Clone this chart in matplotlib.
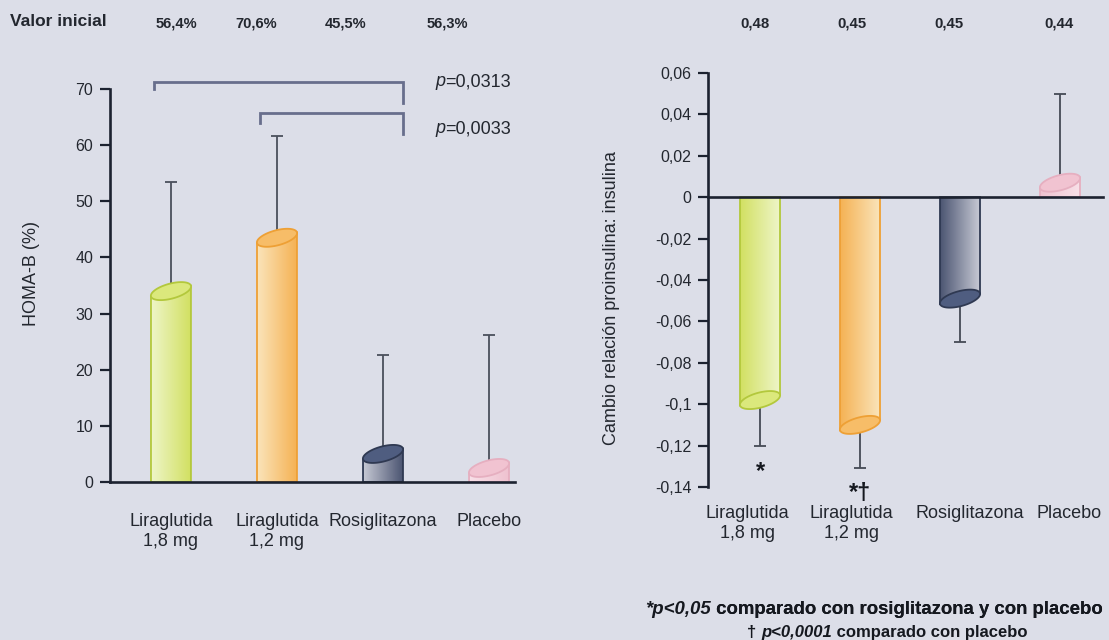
import matplotlib
matplotlib.use('Agg')
import matplotlib.pyplot as plt
import numpy as np
from matplotlib.colors import LinearSegmentedColormap
from matplotlib.patches import Polygon

plt.rcParams['font.family'] = ['Liberation Sans', 'DejaVu Sans']

# ---------------- data ----------------
categories = ['Liraglutida\n1,8 mg', 'Liraglutida\n1,2 mg', 'Rosiglitazona', 'Placebo']

homa_b = [34.0, 43.5, 5.0, 2.5]                 # HOMA-B change (%)
homa_b_err_end = [53.5, 61.7, 22.7, 26.2]       # end of error bar
homa_b_ticks = [0, 10, 20, 30, 40, 50, 60, 70]
homa_baseline = ['56,4%', '70,6%', '45,5%', '56,3%']

proins = [-0.098, -0.110, -0.049, 0.007]        # change proinsulin:insulin
proins_err_end = [-0.120, -0.131, -0.070, 0.050]
proins_ticks = [0.06, 0.04, 0.02, 0.0, -0.02, -0.04, -0.06, -0.08, -0.10, -0.12, -0.14]
proins_baseline = ['0,48', '0,45', '0,45', '0,44']
proins_marks = ['*', '*\u2020', '', '']

bracket_pairs = [(0, 2), (1, 2)]
bracket_levels = [71.3, 65.8]
bracket_left_ends = [70.0, 64.0]
bracket_right_ends = [67.5, 61.9]
bracket_pvalues = ['=0,0313', '=0,0033']

# ---------------- style / layout ----------------
W, H, DPI = 1109, 640, 100
BG = '#dcdee8'
AXC = '#1c2230'
TXT = '#23272f'
DARK = '#15181f'
bar_styles = [
    dict(c1='#eef5c8', c2='#d2e062', edge='#b3c83c', top='#dbe87c'),
    dict(c1='#fae4ba', c2='#f5b254', edge='#eea035', top='#f7bd68'),
    dict(c1='#c6c9d4', c2='#4c5572', edge='#2f3952', top='#4f5d80'),
    dict(c1='#f8e0e8', c2='#efc2d0', edge='#e6afc0', top='#f1c3d1'),
]
pvalue_offsets_px = [(32, 0), (32, -16)]
label_shift_px = [-13, -9, 10, 9]

fig = plt.figure(figsize=(W / DPI, H / DPI), dpi=DPI)
fig.patch.set_facecolor(BG)

axL = fig.add_axes([110 / W, 1 - 482 / H, 405 / W, 393 / H])
axR = fig.add_axes([708 / W, 1 - 487 / H, 395 / W, 414 / H])

for ax in (axL, axR):
    ax.set_facecolor(BG)
    ax.patch.set_alpha(0)
    for s in ('top', 'right'):
        ax.spines[s].set_visible(False)
    for s in ('left', 'bottom'):
        ax.spines[s].set_color(AXC)
        ax.spines[s].set_linewidth(1.9)
        ax.spines[s].set_zorder(6)
    ax.tick_params(axis='y', direction='out', length=7, width=1.6, color=AXC,
                   labelsize=11.5, labelcolor=TXT, pad=5)

axL.set_xlim(-0.575, 3.245)
axL.set_ylim(0, 70)
axR.set_xlim(-0.52, 3.43)
axR.set_ylim(-0.14, 0.06)
axR.spines['bottom'].set_position(('data', 0))

TILT = np.deg2rad(15)
MINOR_PX = 7.5


def cylinder(ax, xpos, vals, width, reverse):
    x0, x1 = ax.get_xlim()
    y0, y1 = ax.get_ylim()
    sx = ax.bbox.width / (x1 - x0)
    sy = ax.bbox.height / (y1 - y0)
    w_px = width * sx
    a = w_px / 2 / np.cos(TILT)
    dy = (w_px / 2) * np.tan(TILT) / sy
    t = np.linspace(0, 2 * np.pi, 120)
    for x, v, st in zip(xpos, vals, bar_styles):
        body = Polygon([(x - width / 2, 0), (x - width / 2, v - dy),
                        (x + width / 2, v + dy), (x + width / 2, 0)],
                       closed=True, facecolor='none', edgecolor=st['edge'],
                       lw=1.3, zorder=3)
        ax.add_patch(body)
        cols = [st['c2'], st['c1']] if reverse else [st['c1'], st['c2']]
        cmap = LinearSegmentedColormap.from_list('g', cols)
        grad = np.linspace(0, 1, 64).reshape(1, -1)
        lo, hi = min(0, v - dy), max(0, v + dy)
        im = ax.imshow(grad, extent=[x - width / 2, x + width / 2, lo, hi],
                       aspect='auto', cmap=cmap, origin='lower', zorder=2,
                       interpolation='bicubic')
        im.set_clip_path(body)
        ex = a * np.cos(t) * np.cos(TILT) - MINOR_PX * np.sin(t) * np.sin(TILT)
        ey = a * np.cos(t) * np.sin(TILT) + MINOR_PX * np.sin(t) * np.cos(TILT)
        ell = Polygon(np.column_stack([x + ex / sx, v + ey / sy]), closed=True,
                      facecolor=st['top'], edgecolor=st['edge'], lw=1.3, zorder=4)
        ax.add_patch(ell)


xL = np.arange(len(categories))
xR = np.arange(len(categories))

# ---------------- left chart ----------------
wL = 0.377
errL_lower = [0] * 4
errL_upper = [e - v for e, v in zip(homa_b_err_end, homa_b)]
axL.errorbar(xL, homa_b, yerr=[errL_lower, errL_upper], fmt='none',
             ecolor='#4a505c', elinewidth=1.3, capsize=4, capthick=1.3, zorder=1.5)
cylinder(axL, xL, homa_b, wL, reverse=False)
axL.set_xlim(-0.575, 3.245)
axL.set_ylim(0, 70)
axL.set_yticks(homa_b_ticks)
axL.set_yticklabels([str(v) for v in homa_b_ticks])
axL.set_xticks(xL)
axL.set_xticklabels(categories, fontsize=13, color=TXT, linespacing=1.25)
axL.tick_params(axis='x', length=0, pad=22)

for (i, j), lvl, le, re_, pv, off in zip(bracket_pairs, bracket_levels,
                                         bracket_left_ends, bracket_right_ends,
                                         bracket_pvalues, pvalue_offsets_px):
    xl = xL[i] - wL / 2 + 0.03
    xr = xL[j] + wL / 2
    axL.plot([xl, xl, xr, xr], [le, lvl, lvl, re_], color='#686e8c', lw=2.0,
             clip_on=False, solid_joinstyle='miter', zorder=5)
    tp = axL.annotate('p', xy=(xr, lvl), xytext=off, textcoords='offset pixels',
                      fontsize=13, style='italic', color=TXT, va='center',
                      ha='left', annotation_clip=False)
    axL.annotate(pv, xy=(1, 0), xycoords=tp, fontsize=13, color=TXT,
                 va='bottom', ha='left', annotation_clip=False)

# ---------------- right chart ----------------
wR = 0.40
errR_lower = [max(0, v - e) for v, e in zip(proins, proins_err_end)]
errR_upper = [max(0, e - v) for v, e in zip(proins, proins_err_end)]
axR.errorbar(xR, proins, yerr=[errR_lower, errR_upper], fmt='none',
             ecolor='#454a55', elinewidth=1.3, capsize=4, capthick=1.3, zorder=1.5)
cylinder(axR, xR, proins, wR, reverse=True)
axR.set_xlim(-0.52, 3.43)
axR.set_ylim(-0.14, 0.06)
axR.set_yticks(proins_ticks)
axR.set_yticklabels([f"{round(v, 2):g}".replace('.', ',') for v in proins_ticks])
axR.set_xticks([])

for x, lab, sh in zip(xR, categories, label_shift_px):
    axR.annotate(lab, xy=(x, 0), xycoords=('data', 'axes fraction'),
                 xytext=(sh, -18), textcoords='offset pixels', ha='center', va='top',
                 fontsize=13, color=TXT, linespacing=1.25, annotation_clip=False)

for x, e, m in zip(xR, proins_err_end, proins_marks):
    if m:
        axR.annotate(m, xy=(x, e), xytext=(0, -14), textcoords='offset pixels',
                     ha='center', va='top', fontsize=17, fontweight='bold',
                     color=DARK, annotation_clip=False)

# ---------------- texts ----------------
fig.text(10 / W, 1 - 22 / H, 'Valor inicial', fontsize=12.5, fontweight='bold',
         color=TXT, ha='left', va='center')
for xp, s in zip([176, 256, 346, 447], homa_baseline):
    fig.text(xp / W, 1 - 23 / H, s, fontsize=10.5, fontweight='bold', color=TXT,
             ha='center', va='center')
for xp, s in zip([755, 852, 949, 1059], proins_baseline):
    fig.text(xp / W, 1 - 23 / H, s, fontsize=10.8, fontweight='bold', color=TXT,
             ha='center', va='center')

fig.text(32 / W, 1 - 273 / H, 'HOMA-B (%)', rotation=90, fontsize=13, color=TXT,
         ha='center', va='center')
fig.text(611 / W, 1 - 298 / H, 'Cambio relación proinsulina: insulina', rotation=90,
         fontsize=13, color=TXT, ha='center', va='center')

FN1, FN2 = 13.4, 12.0
t1 = fig.text(645 / W, 1 - 610 / H, '*p<0,05', fontsize=FN1, fontweight='bold',
              style='italic', color=DARK, ha='left', va='center')
fig.add_artist(plt.annotate(' comparado con rosiglitazona y con placebo', xy=(1, 0),
                            xycoords=t1, fontsize=FN1, fontweight='bold', color=DARK,
                            va='bottom', ha='left'))
t2 = fig.text(747 / W, 1 - 632 / H, '\u2020 ', fontsize=FN2, fontweight='bold',
              color=DARK, ha='left', va='center')
t3 = plt.annotate('p<0,0001', xy=(1, 0), xycoords=t2, fontsize=FN2, fontweight='bold',
                  style='italic', color=DARK, va='bottom', ha='left')
plt.annotate(' comparado con placebo', xy=(1, 0), xycoords=t3, fontsize=FN2,
             fontweight='bold', color=DARK, va='bottom', ha='left')

fig.savefig('out.png', dpi=DPI, facecolor=BG)
